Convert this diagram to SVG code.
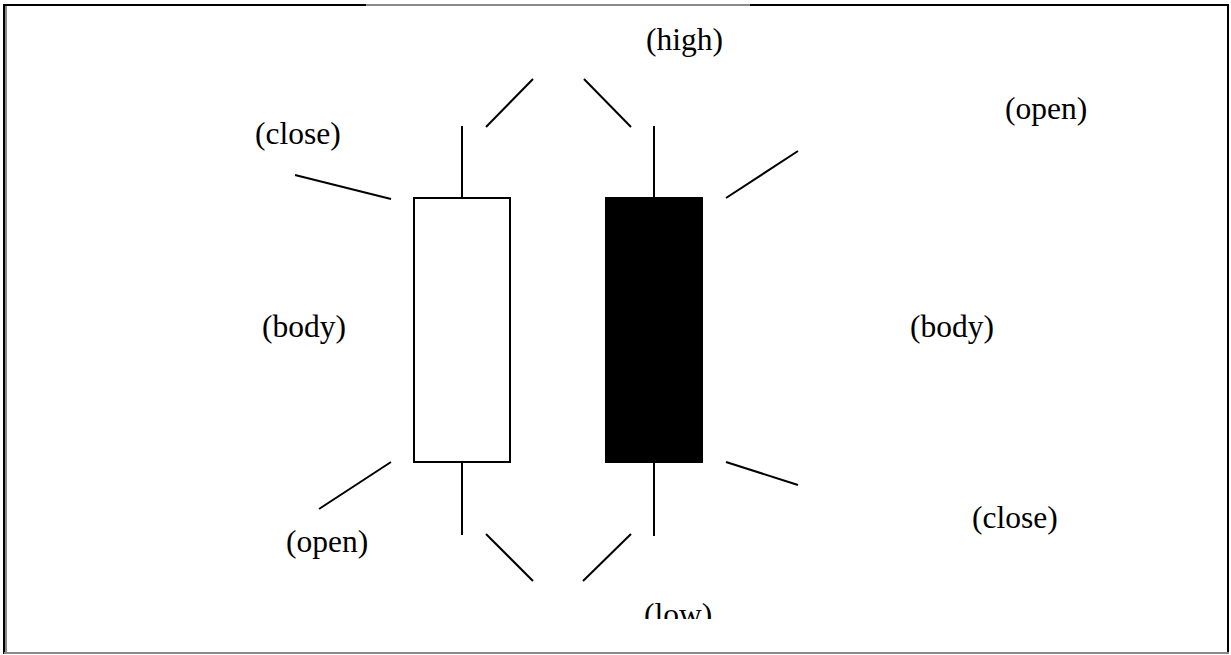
<svg xmlns="http://www.w3.org/2000/svg" width="1231" height="655" viewBox="0 0 1231 655">
  <style>
    .lbl { font-family: "Liberation Serif", "Times New Roman", serif; font-size: 31.5px; fill: #000; }
    .ln { stroke: #000; stroke-width: 2; fill: none; }
    .frame-dark { stroke: #000; stroke-width: 2; fill: none; }
    .frame-grey { stroke: #8a8a8a; stroke-width: 2; fill: none; }
  </style>
  <defs>
    <clipPath id="clipLow">
      <rect x="600" y="590" width="150" height="29"/>
    </clipPath>
  </defs>
  <rect width="1231" height="655" fill="#fff"/>

  <!-- outer frame -->
  <g id="frame">
    <line class="frame-dark" x1="3" y1="5" x2="366" y2="5"/>
    <line class="frame-grey" x1="366" y1="5" x2="750" y2="5"/>
    <line class="frame-dark" x1="750" y1="5" x2="1229" y2="5"/>
    <line class="frame-dark" x1="1228" y1="4" x2="1228" y2="654"/>
    <line class="frame-dark" x1="4" y1="4" x2="4" y2="654"/>
    <line class="frame-grey" x1="6" y1="6" x2="6" y2="652"/>
    <line class="frame-grey" x1="4" y1="653" x2="1229" y2="653"/>
  </g>

  <!-- white (rising) candle -->
  <g id="candle-white">
    <rect x="414" y="198" width="96" height="264" fill="#fff" stroke="#000" stroke-width="2"/>
    <line class="ln" x1="462" y1="126" x2="462" y2="198"/>
    <line class="ln" x1="462" y1="462" x2="462" y2="535"/>
  </g>

  <!-- black (falling) candle -->
  <g id="candle-black">
    <rect x="605" y="197" width="98" height="266" fill="#000"/>
    <line class="ln" x1="654" y1="126" x2="654" y2="197"/>
    <line class="ln" x1="654" y1="463" x2="654" y2="536"/>
  </g>

  <!-- pointer lines -->
  <g id="connectors">
    <line class="ln" x1="295" y1="175" x2="391" y2="199"/>
    <line class="ln" x1="486" y1="127" x2="533" y2="79"/>
    <line class="ln" x1="584" y1="79" x2="631" y2="127"/>
    <line class="ln" x1="726" y1="198" x2="798" y2="151"/>
    <line class="ln" x1="319" y1="509" x2="391" y2="462"/>
    <line class="ln" x1="486" y1="534" x2="533" y2="581"/>
    <line class="ln" x1="631" y1="534" x2="583" y2="581"/>
    <line class="ln" x1="726" y1="462" x2="798" y2="485"/>
  </g>

  <!-- labels -->
  <g id="label-high"><text class="lbl" x="646" y="50">(high)</text></g>
  <g id="label-close-left"><text class="lbl" x="255" y="144">(close)</text></g>
  <g id="label-open-right"><text class="lbl" x="1005" y="119">(open)</text></g>
  <g id="label-body-left"><text class="lbl" x="262" y="337">(body)</text></g>
  <g id="label-body-right"><text class="lbl" x="910" y="337">(body)</text></g>
  <g id="label-open-left"><text class="lbl" x="286" y="552">(open)</text></g>
  <g id="label-close-right"><text class="lbl" x="972" y="528">(close)</text></g>
  <g id="label-low"><text class="lbl" x="644" y="625" clip-path="url(#clipLow)">(low)</text></g>
</svg>
